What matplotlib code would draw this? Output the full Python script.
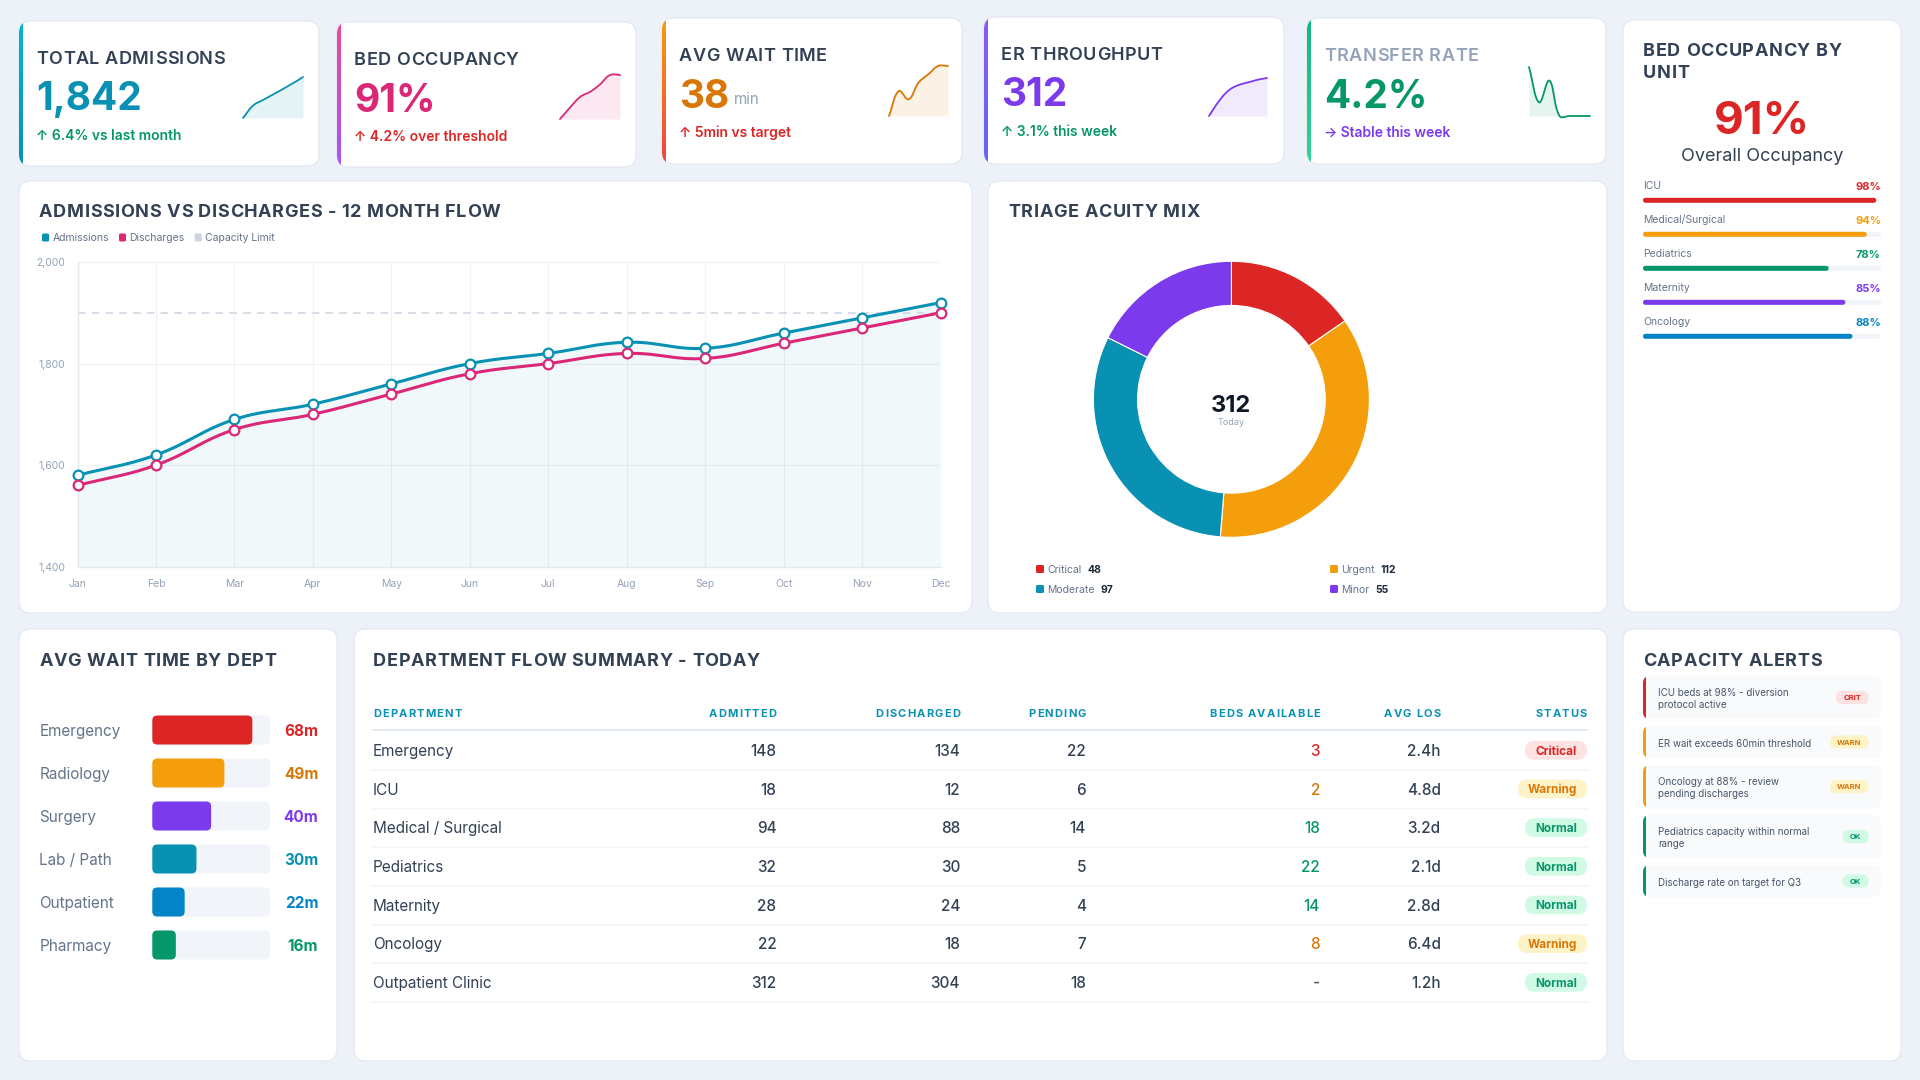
import numpy as np
import matplotlib
matplotlib.use('Agg')
import matplotlib.pyplot as plt
from matplotlib.patches import FancyBboxPatch
from matplotlib.colors import LinearSegmentedColormap
from matplotlib.ticker import FuncFormatter
from matplotlib.font_manager import FontProperties

FAMILY = ['Inter', 'DejaVu Sans']
plt.rcParams['font.family'] = FAMILY

W, H = 1920, 1080

# ---------------- data ----------------
months = ['Jan', 'Feb', 'Mar', 'Apr', 'May', 'Jun', 'Jul', 'Aug', 'Sep', 'Oct', 'Nov', 'Dec']
admissions = [1580, 1620, 1690, 1720, 1760, 1800, 1820, 1842, 1830, 1860, 1890, 1920]
discharges = [1560, 1600, 1670, 1700, 1740, 1780, 1800, 1820, 1810, 1840, 1870, 1900]
capacity_limit = 1900

kpi_titles = ['TOTAL ADMISSIONS', 'BED OCCUPANCY', 'AVG WAIT TIME', 'ER THROUGHPUT', 'TRANSFER RATE']
kpi_values = ['1,842', '91%', '38', '312', '4.2%']
kpi_units = ['', '', 'min', '', '']
kpi_notes = ['↑ 6.4% vs last month', '↑ 4.2% over threshold', '↑ 5min vs target',
             '↑ 3.1% this week', '→ Stable this week']

spark_admissions = [1610, 1680, 1712, 1742, 1774, 1806, 1842]
spark_occupancy = [84, 85.8, 87.5, 88.3, 89.5, 91, 91]
spark_wait = [30, 36, 34, 38, 40, 42, 42]
spark_er = [270, 286, 298, 304, 307, 310, 312]
spark_transfer = [5.1, 4.45, 4.85, 4.2, 4.2, 4.2, 4.2]

triage_labels = ['Critical', 'Urgent', 'Moderate', 'Minor']
triage_counts = [48, 112, 97, 55]

units = ['ICU', 'Medical/Surgical', 'Pediatrics', 'Maternity', 'Oncology']
unit_occupancy = [98, 94, 78, 85, 88]
overall_occupancy = 91

wait_depts = ['Emergency', 'Radiology', 'Surgery', 'Lab / Path', 'Outpatient', 'Pharmacy']
wait_minutes = [68, 49, 40, 30, 22, 16]
wait_scale_max = 80

table_headers = ['DEPARTMENT', 'ADMITTED', 'DISCHARGED', 'PENDING', 'BEDS AVAILABLE', 'AVG LOS', 'STATUS']
departments = ['Emergency', 'ICU', 'Medical / Surgical', 'Pediatrics', 'Maternity', 'Oncology', 'Outpatient Clinic']
admitted = [148, 18, 94, 32, 28, 22, 312]
discharged = [134, 12, 88, 30, 24, 18, 304]
pending = [22, 6, 14, 5, 4, 7, 18]
beds_available = ['3', '2', '18', '22', '14', '8', '-']
avg_los = ['2.4h', '4.8d', '3.2d', '2.1d', '2.8d', '6.4d', '1.2h']
status = ['Critical', 'Warning', 'Normal', 'Normal', 'Normal', 'Warning', 'Normal']

alert_texts = ['ICU beds at 98% - diversion\nprotocol active',
               'ER wait exceeds 60min threshold',
               'Oncology at 88% - review\npending discharges',
               'Pediatrics capacity within normal\nrange',
               'Discharge rate on target for Q3']
alert_levels = ['CRIT', 'WARN', 'WARN', 'OK', 'OK']

# ---------------- styles ----------------
kpi_colors = ['#0891b2', '#db2777', '#d97706', '#7c3aed', '#059669']
note_colors = ['#059669', '#dc2626', '#dc2626', '#059669', '#7c3aed']
title_colors = ['#334155', '#334155', '#334155', '#334155', '#94a3b8']
accents = [('#06b6d4', '#0891b2'), ('#ec4899', '#a855f7'), ('#f59e0b', '#ef4444'),
           ('#8b5cf6', '#6366f1'), ('#10b981', '#34d399')]
triage_colors = ['#dc2626', '#f59e0b', '#0891b2', '#7c3aed']
unit_colors = ['#dc2626', '#f59e0b', '#059669', '#7c3aed', '#0284c7']
wait_colors = ['#dc2626', '#f59e0b', '#7c3aed', '#0891b2', '#0284c7', '#059669']
wait_text_colors = ['#dc2626', '#d97706', '#7c3aed', '#0891b2', '#0284c7', '#059669']
status_style = {'Critical': ('#fee2e2', '#dc2626', 62),
                'Warning': ('#fef3c7', '#d97706', 69),
                'Normal': ('#d1fae5', '#059669', 62)}
level_style = {'CRIT': ('#dc2626', '#fee2e2', '#dc2626', 32.7),
               'WARN': ('#f59e0b', '#fef3c7', '#d97706', 38.7),
               'OK': ('#059669', '#d1fae5', '#059669', 26)}
DARK = '#334155'
MUTED = '#64748b'

fig = plt.figure(figsize=(W / 100, H / 100), dpi=100)
fig.patch.set_facecolor('#edf1f8')
bg = fig.add_axes([0, 0, 1, 1], zorder=0)
bg.set_axis_off()
bg.set_xlim(0, W)
bg.set_ylim(H, 0)
bg.set_autoscale_on(False)
renderer = fig.canvas.get_renderer()


def box(x, y, w, h, r=12, fc='white', ec='#e2e8f0', lw=0.8, z=1):
    p = FancyBboxPatch((x, y), w, h, boxstyle=f'round,pad=0,rounding_size={r}',
                       fc=fc, ec=ec, lw=lw, zorder=z)
    bg.add_patch(p)
    return p


def strip(p, x, y, h, w, c1, c2=None):
    cmap = LinearSegmentedColormap.from_list('s', [c1, c2 or c1])
    im = bg.imshow(np.linspace(0, 1, 64).reshape(-1, 1), cmap=cmap, extent=[x, x + w, y + h, y],
                   aspect='auto', zorder=p.get_zorder() + 0.5, interpolation='bilinear')
    im.set_clip_path(p)


def txt(x, yc, s, size, color=DARK, weight='normal', ha='left'):
    # yc = visual centre of capitals
    return bg.text(x, yc + 0.505 * size, s, fontsize=size, color=color, fontweight=weight,
                   ha=ha, va='baseline', zorder=5)


def stxt(x, yc, s, size, color=DARK, weight='bold', ha='left', spacing=0.6):
    # text with letter spacing, drawn glyph by glyph
    fp = FontProperties(family=FAMILY, size=size, weight=weight)
    wid = lambda q: renderer.get_text_width_height_descent(q, fp, ismath=False)[0]
    total = wid(s) + spacing * (len(s) - 1)
    x0 = {'left': x, 'right': x - total, 'center': x - total / 2}[ha]
    for k, ch in enumerate(s):
        if ch == ' ':
            continue
        bg.text(x0 + wid(s[:k + 1]) + spacing * k, yc + 0.505 * size, ch, fontproperties=fp,
                color=color, ha='right', va='baseline', zorder=5)
    return x0 + total


def right_end(t):
    bb = t.get_window_extent(renderer)
    return bg.transData.inverted().transform((bb.x1, bb.y0))[0]


def add_ax(x, y, w, h, z=2):
    ax = fig.add_axes([x / W, 1 - (y + h) / H, w / W, h / H], zorder=z)
    ax.patch.set_alpha(0)
    return ax


def smooth(xs, ys, sx, sy, tension=0.4, n=24):
    P = np.column_stack([np.asarray(xs, float) * sx, np.asarray(ys, float) * sy])
    m = len(P)
    cp, cn = P.copy(), P.copy()
    for i in range(m):
        a, b = P[max(i - 1, 0)], P[min(i + 1, m - 1)]
        d01 = np.hypot(*(P[i] - a))
        d12 = np.hypot(*(b - P[i]))
        tot = d01 + d12
        if tot == 0:
            continue
        cp[i] = P[i] - tension * d01 / tot * (b - a)
        cn[i] = P[i] + tension * d12 / tot * (b - a)
    t = np.linspace(0, 1, n)[:, None]
    segs = []
    for i in range(m - 1):
        p0, p1, p2, p3 = P[i], cn[i], cp[i + 1], P[i + 1]
        seg = (1 - t) ** 3 * p0 + 3 * (1 - t) ** 2 * t * p1 + 3 * (1 - t) * t ** 2 * p2 + t ** 3 * p3
        segs.append(seg if i == 0 else seg[1:])
    C = np.vstack(segs)
    return C[:, 0] / sx, C[:, 1] / sy


def round_bars(ax, bars, r_px):
    (x0, y0), (x1, y1) = ax.transData.transform([(0, 0), (1, 1)])
    ux, uy = abs(x1 - x0), abs(y1 - y0)
    for b in bars:
        x, y, w, h = b.get_x(), b.get_y(), b.get_width(), b.get_height()
        r = min(r_px, w * ux / 2, h * uy / 2) / ux
        p = FancyBboxPatch((x, y), w, h, boxstyle=f'round,pad=0,rounding_size={r}',
                           mutation_aspect=ux / uy, fc=b.get_facecolor(), ec='none',
                           zorder=b.get_zorder())
        ax.add_patch(p)
        b.remove()


# ---------------- KPI cards ----------------
kpi_boxes = [(19, 21, 300, 145), (337, 22, 299, 145), (662, 18, 300, 146),
             (984, 17, 300, 147), (1307, 18, 299, 146)]
spark_boxes = [(243, 77, 60, 41), (560, 75, 60, 44), (889, 66, 59, 50),
               (1209, 78, 58, 38), (1529, 67, 61, 49)]
sparks = [spark_admissions, spark_occupancy, spark_wait, spark_er, spark_transfer]

for i, (x, y, w, h) in enumerate(kpi_boxes):
    p = box(x, y, w, h)
    strip(p, x, y, h, 4, *accents[i])
    stxt(x + 17, y + 36.5, kpi_titles[i], 13, title_colors[i], 'semibold', spacing=0.5)
    v = bg.text(x + 17, y + 89.5, kpi_values[i], fontsize=28, color=kpi_colors[i],
                fontweight='bold', va='baseline', zorder=5)
    if kpi_units[i]:
        bg.text(right_end(v) + 5, y + 86, kpi_units[i], fontsize=11, color='#94a3b8',
                va='baseline', zorder=5)
    txt(x + 17, y + 113.5, kpi_notes[i], 10, note_colors[i], 'semibold')

    sx0, sy0, sw, sh = spark_boxes[i]
    sax = add_ax(sx0, sy0, sw, sh)
    d = sparks[i]
    lo, hi = min(d), max(d)
    px, py = smooth(np.arange(len(d)), d, sw / (len(d) - 1), sh / (hi - lo))
    sax.fill_between(px, py, lo, color=kpi_colors[i], alpha=0.1, lw=0)
    sax.plot(px, py, color=kpi_colors[i], lw=1.3, clip_on=False, solid_capstyle='round')
    sax.set_xlim(0, len(d) - 1)
    sax.set_ylim(lo, hi)
    sax.axis('off')

# ---------------- admissions vs discharges ----------------
box(19, 181, 953, 432)
stxt(39, 210.7, 'ADMISSIONS VS DISCHARGES - 12 MONTH FLOW', 13, DARK, 'bold')
lx = 42
for name, c in [('Admissions', '#0891b2'), ('Discharges', '#db2777'), ('Capacity Limit', '#cbd5e1')]:
    box(lx, 233.5, 7, 8, r=1.5, fc=c, ec='none', z=4)
    t = txt(lx + 10.5, 237.3, name, 7.5, MUTED)
    lx = right_end(t) + 10

lax = add_ax(77.5, 262, 863, 304.7)
xm = np.arange(len(months))
lax.set_xlim(0, len(months) - 1)
lax.set_ylim(1400, 2000)
sxp, syp = 863 / (len(months) - 1), 304.7 / 600
ax_x, ax_y = smooth(xm, admissions, sxp, syp)
dc_x, dc_y = smooth(xm, discharges, sxp, syp)
lax.fill_between(ax_x, ax_y, 1400, color='#0891b2', alpha=0.06, lw=0)
lax.axhline(capacity_limit, color='#cbd5e1', lw=1.1, ls=(0, (5, 4)), zorder=2)
lax.plot(ax_x, ax_y, color='#0891b2', lw=2.2, clip_on=False, zorder=3)
lax.plot(dc_x, dc_y, color='#db2777', lw=2.2, clip_on=False, zorder=3)
lax.plot(xm, admissions, 'o', ms=7, mfc='white', mec='#0891b2', mew=1.6, clip_on=False, zorder=4)
lax.plot(xm, discharges, 'o', ms=7, mfc='white', mec='#db2777', mew=1.6, clip_on=False, zorder=4)
lax.set_xticks(xm, months)
lax.set_yticks([1400, 1600, 1800, 2000])
lax.yaxis.set_major_formatter(FuncFormatter(lambda v, _: f'{v:,.0f}'))
lax.set_axisbelow(True)
lax.grid(True, color='#eef1f5', lw=0.8)
lax.tick_params(length=0, labelsize=7.5, labelcolor='#94a3b8', pad=9)
for s in ['top', 'right']:
    lax.spines[s].set_visible(False)
for s in ['left', 'bottom']:
    lax.spines[s].set_color('#e2e8f0')
    lax.spines[s].set_linewidth(1)

# ---------------- triage donut ----------------
box(988, 181, 619, 432)
stxt(1008.6, 210.7, 'TRIAGE ACUITY MIX', 13, DARK, 'bold')
dcx, dcy, rr = 1231.4, 399.3, 138
dax = add_ax(dcx - rr, dcy - rr, 2 * rr, 2 * rr)
dax.pie(triage_counts, colors=triage_colors, startangle=90, counterclock=False, radius=1,
        wedgeprops=dict(width=0.32, edgecolor='white', linewidth=0.8))
dax.set_xlim(-1, 1)
dax.set_ylim(-1, 1)
txt(dcx, 403.5, str(sum(triage_counts)), 17, '#0f172a', 'bold', 'center')
txt(dcx, 422, 'Today', 6.5, '#94a3b8', 'normal', 'center')
leg_pos = [(1040, 569), (1334, 569), (1040, 589), (1334, 589)]
for (gx, gy), name, cnt, c in zip(leg_pos, triage_labels, triage_counts, triage_colors):
    box(gx - 4, gy - 4, 8, 8, r=1.5, fc=c, ec='none', z=4)
    t = txt(gx + 7, gy, name, 7.5, MUTED)
    txt(right_end(t) + 6, gy, str(cnt), 7.5, '#1e293b', 'bold')

# ---------------- bed occupancy by unit ----------------
box(1623, 20, 278, 592)
stxt(1643, 49, 'BED OCCUPANCY BY', 13, DARK, 'bold')
stxt(1643, 71, 'UNIT', 13, DARK, 'bold')
txt(1762, 117, f'{overall_occupancy}%', 33, '#dc2626', 'bold', 'center')
txt(1762, 154, 'Overall Occupancy', 13, DARK, 'normal', 'center')
row_h = 34
oax = add_ax(1643, 183.3, 238, row_h * len(units))
oax.set_xlim(0, 100)
oax.set_ylim(len(units) - 0.5, -0.5)
tr = oax.barh(range(len(units)), [100] * len(units), height=5 / row_h, color='#f1f5f9')
br = oax.barh(range(len(units)), unit_occupancy, height=5 / row_h, color=unit_colors)
round_bars(oax, tr, 2.5)
round_bars(oax, br, 2.5)
oax.axis('off')
for i, (u, v) in enumerate(zip(units, unit_occupancy)):
    yc = 183.3 + row_h * (i + 0.5) - 14.6
    txt(1643, yc, u, 7.5, MUTED)
    txt(1881, yc, f'{v}%', 8, unit_colors[i], 'bold', 'right')

# ---------------- avg wait time by dept ----------------
box(19, 629, 318, 432)
stxt(39.3, 659, 'AVG WAIT TIME BY DEPT', 13, DARK, 'bold')
wrow = 43
wax = add_ax(152.3, 708.5, 117.7, wrow * len(wait_depts))
wax.set_xlim(0, wait_scale_max)
wax.set_ylim(len(wait_depts) - 0.5, -0.5)
tr = wax.barh(range(len(wait_depts)), [wait_scale_max] * len(wait_depts), height=29 / wrow, color='#f1f5f9')
br = wax.barh(range(len(wait_depts)), wait_minutes, height=29 / wrow, color=wait_colors)
round_bars(wax, tr, 5)
round_bars(wax, br, 5)
wax.axis('off')
for i, (dname, m) in enumerate(zip(wait_depts, wait_minutes)):
    yc = 708.5 + wrow * (i + 0.5)
    txt(39.3, yc, dname, 11, MUTED)
    txt(318.3, yc, f'{m}m', 11, wait_text_colors[i], 'bold', 'right')

# ---------------- department flow table ----------------
box(354, 629, 1253, 432)
stxt(373, 659, 'DEPARTMENT FLOW SUMMARY - TODAY', 13, DARK, 'bold')
col_x = [373, 776.5, 960, 1086, 1320, 1440.7, 1587]
for j, hd in enumerate(table_headers):
    stxt(col_x[j], 713.3, hd, 8, '#0891b2', 'bold', 'left' if j == 0 else 'right', spacing=1.2)
bg.plot([373, 1587], [730, 730], color='#e2e8f0', lw=1.3, zorder=3)
trow = 38.67
for i in range(len(departments)):
    yc = 750.3 + trow * i
    pill_bg, pill_fg, pw = status_style[status[i]]
    txt(col_x[0], yc, departments[i], 11, DARK)
    txt(col_x[1], yc, str(admitted[i]), 11, DARK, 'medium', 'right')
    txt(col_x[2], yc, str(discharged[i]), 11, DARK, 'medium', 'right')
    txt(col_x[3], yc, str(pending[i]), 11, DARK, 'medium', 'right')
    bcol = pill_fg if beds_available[i] != '-' else '#475569'
    txt(col_x[4], yc, beds_available[i], 11, bcol, 'medium', 'right')
    txt(col_x[5], yc, avg_los[i], 11, DARK, 'medium', 'right')
    box(col_x[6] - pw, yc - 9.35, pw, 18.7, r=9.35, fc=pill_bg, ec='none', z=3)
    txt(col_x[6] - pw / 2, yc, status[i], 8.5, pill_fg, 'bold', 'center')
    bg.plot([373, 1587], [yc + 19.7, yc + 19.7], color='#f1f5f9', lw=1.2, zorder=3)

# ---------------- capacity alerts ----------------
box(1623, 629, 278, 432)
stxt(1643, 659, 'CAPACITY ALERTS', 13, DARK, 'bold')
ay = 676
for text, level in zip(alert_texts, alert_levels):
    edge, bbg, bfg, bw = level_style[level]
    lines = text.split('\n')
    ah = 43 if len(lines) > 1 else 32
    p = box(1643, ay, 238, ah, r=7, fc='#f8fafc', ec='none', z=2)
    strip(p, 1643, ay, ah, 3, edge)
    yc = ay + ah / 2
    for k, line in enumerate(lines):
        txt(1658.3, yc + 1 + (k - (len(lines) - 1) / 2) * 11.6, line, 7, '#475569')
    box(1868.7 - bw, yc - 6.65, bw, 13.3, r=6.65, fc=bbg, ec='none', z=3)
    txt(1868.7 - bw / 2, yc, level, 5.5, bfg, 'bold', 'center')
    ay += ah + 7

bg.set_xlim(0, W)
bg.set_ylim(H, 0)
fig.savefig('out.png', dpi=100, facecolor=fig.get_facecolor())
